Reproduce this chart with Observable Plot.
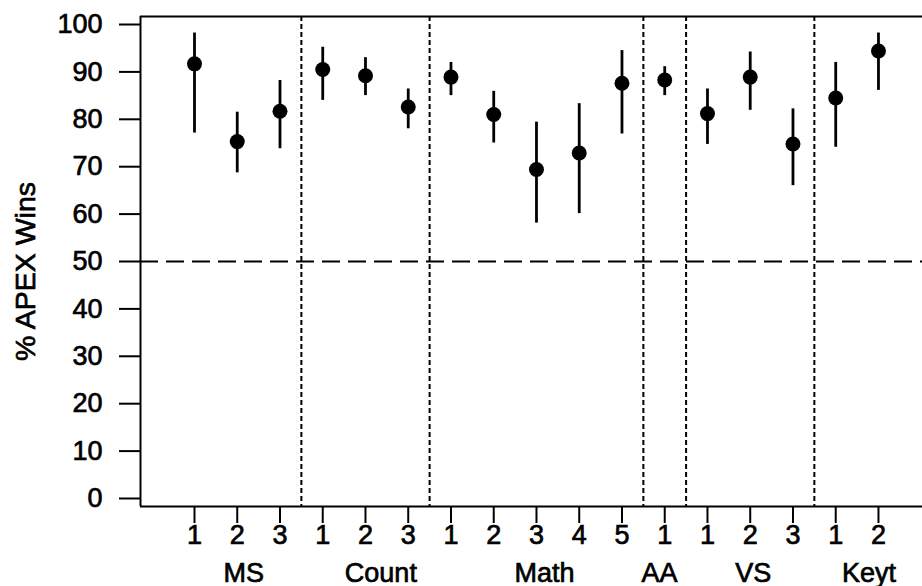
<!DOCTYPE html>
<html><head><meta charset="utf-8">
<script src="https://cdn.jsdelivr.net/npm/d3@7"></script>
<script src="https://cdn.jsdelivr.net/npm/@observablehq/plot@0.6"></script>
<style>html,body{margin:0;padding:0;background:#fff;overflow:hidden} svg text{stroke:#000;stroke-width:0.7px}</style>
</head><body><div id="chart"></div>
<script>
const groupNames = ["MS", "Count", "Math", "AA", "VS", "Keyt"];
const groupSizes = [3, 3, 5, 1, 3, 2];
const groupLabelPos = [1.15, 4.36, 8.19, 10.88, 13.07, 15.78];
const tickLabels = ["1","2","3","1","2","3","1","2","3","4","5","1","1","2","3","1","2"];
const meanWins = [91.7, 75.3, 81.7, 90.5, 89.2, 82.6, 88.9, 81.0, 69.4, 72.9, 87.6, 88.3, 81.2, 88.9, 74.8, 84.5, 94.4];
const lowerCI  = [77.1, 68.7, 73.8, 84.0, 85.0, 78.0, 85.0, 75.0, 58.1, 60.1, 76.9, 85.0, 74.7, 81.9, 66.0, 74.1, 86.1];
const upperCI  = [98.2, 81.5, 88.2, 95.2, 93.0, 86.4, 92.0, 85.9, 79.4, 83.3, 94.5, 91.1, 86.4, 94.2, 82.2, 92.0, 98.2];
const yTicks = [0, 10, 20, 30, 40, 50, 60, 70, 80, 90, 100];
const yLabel = ["% APEX Wins"];
const refLine = [50];
const xDomain = [-1.263, 17.03];
const yDomain = [-1.69, 101.69];

const rows = meanWins.map((m, i) => ({idx: i, mean: m, lo: lowerCI[i], hi: upperCI[i]}));
const boundaries = [];
{ let c = 0; for (let g = 0; g < groupSizes.length - 1; g++) { c += groupSizes[g]; boundaries.push(c - 0.5); } }
const groups = groupNames.map((name, i) => ({name, pos: groupLabelPos[i]}));

const chart = Plot.plot({
  width: 922, height: 586,
  marginLeft: 140, marginTop: 16, marginBottom: 80, marginRight: 0,
  style: {fontFamily: "'Liberation Sans', Arial, sans-serif", fontSize: "27px", color: "#000", background: "#fff"},
  x: {type: "linear", domain: xDomain},
  y: {domain: yDomain},
  marks: [
    Plot.ruleY(refLine, {stroke: "#000", strokeWidth: 2, strokeDasharray: "18,8"}),
    Plot.ruleX(boundaries, {stroke: "#000", strokeWidth: 2, strokeDasharray: "5,3"}),
    Plot.ruleX(rows, {x: "idx", y1: "lo", y2: "hi", stroke: "#000", strokeWidth: 2.8}),
    Plot.dot(rows, {x: "idx", y: "mean", r: 7.5, fill: "#000", stroke: "none"}),
    Plot.ruleY([yDomain[0], yDomain[1]], {stroke: "#000", strokeWidth: 2}),
    Plot.ruleX([xDomain[0]], {stroke: "#000", strokeWidth: 2}),
    Plot.axisY({ticks: yTicks, tickSize: 21, tickPadding: 17, strokeWidth: 2, label: null}),
    Plot.axisX({ticks: d3.range(tickLabels.length), tickFormat: i => tickLabels[i],
      tickSize: 17, tickPadding: 1, strokeWidth: 2, label: null}),
    Plot.text(yLabel, {text: d => d, frameAnchor: "left", textAnchor: "middle", rotate: -90, dx: -115, dy: 10, fontSize: 28.5, fill: "#000"}),
    Plot.text(groups, {x: "pos", text: "name", frameAnchor: "bottom", dy: 75, fill: "#000"})
  ]
});
document.getElementById("chart").appendChild(chart);
</script>
</body></html>
